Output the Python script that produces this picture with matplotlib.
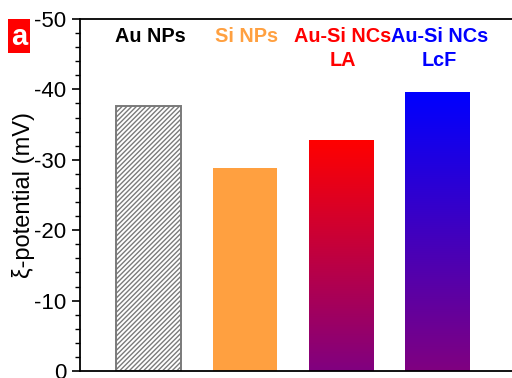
import numpy as np
import matplotlib
matplotlib.use("Agg")
import matplotlib.pyplot as plt
from matplotlib.patches import Rectangle
from matplotlib.colors import LinearSegmentedColormap

plt.rcParams['font.family'] = ['Liberation Sans', 'DejaVu Sans']
plt.rcParams['hatch.linewidth'] = 1.0

# Zeta potential of each sample (mV)
samples = ["Au NPs", "Si NPs", "Au-Si NCs\nLA", "Au-Si NCs\nLcF"]
zeta_mv = [-37.6, -28.8, -32.8, -39.6]
label_colors = ["black", "#FFA040", "#FF0000", "#0000FF"]
y_ticks = [0, -10, -20, -30, -40, -50]

W, H = 512, 378
fig = plt.figure(figsize=(W / 100, H / 100), dpi=100)
ax = fig.add_axes([80 / W, 7 / H, (W - 80) / W + 0.02, 352 / H])

x = np.arange(len(samples))
bw = 0.67

bars = ax.bar(x + 0.01, zeta_mv, width=bw, zorder=2)

# Au NPs: grey hatched bar
b0 = bars[0]
b0.set_facecolor("white")
b0.set_edgecolor("#7a7a7a")
b0.set_hatch("///////")
b0.set_linewidth(1.4)

# Si NPs: solid orange
bars[1].set_facecolor("#FFA040")
bars[1].set_edgecolor("none")

# Au-Si NCs: vertical gradients ending in purple at the baseline
grads = {2: ("#FF0000", "#800080"), 3: ("#0000FF", "#800080")}
for i, (top_c, bot_c) in grads.items():
    b = bars[i]
    b.set_facecolor("none")
    b.set_edgecolor("none")
    cmap = LinearSegmentedColormap.from_list(f"g{i}", [bot_c, top_c])
    grad = np.linspace(0, 1, 256).reshape(-1, 1)
    x0 = x[i] + 0.01 - bw / 2
    im = ax.imshow(grad, cmap=cmap, aspect="auto", origin="lower",
                   extent=[x0, x0 + bw, 0, zeta_mv[i]], zorder=2,
                   interpolation="bilinear")
    im.set_clip_path(b)

ax.set_xlim(-(149 - 80) / 98.3, len(samples) - 1 + (W - 444) / 98.3 + 0.2)
ax.set_ylim(0, -50)
ax.set_yticks(y_ticks)
ax.set_yticklabels([str(t) for t in y_ticks])
ax.set_yticks(np.arange(0, -51, -2), minor=True)
ax.set_xticks([])
ax.tick_params(axis="y", which="major", direction="out", length=6, width=1.2,
               labelsize=16, pad=4)
ax.tick_params(axis="y", which="minor", direction="out", length=3.5, width=1.0)
for side in ("left", "top", "bottom"):
    ax.spines[side].set_linewidth(1.3)
ax.spines["right"].set_visible(False)

# Sample names above the bars
for i, (name, col) in enumerate(zip(samples, label_colors)):
    ax.text(x[i] + 0.03, 1 - 8 / 352, name, transform=ax.get_xaxis_transform(),
            ha="center", va="top", fontsize=14.3, fontweight="bold",
            color=col, linespacing=1.35)

fig.text(24 / W, 1 - 195 / H, "ξ-potential (mV)", rotation=90,
         ha="center", va="center", fontsize=17)

# Panel tag
fig.add_artist(Rectangle((8 / W, 1 - 53 / H), 22 / W, 34 / H,
                         transform=fig.transFigure, facecolor="#FF0000",
                         edgecolor="none"))
fig.text(19 / W, 1 - 37 / H, "a", ha="center", va="center", color="white",
         fontsize=21, fontweight="bold")

fig.savefig("out.png", dpi=100)
